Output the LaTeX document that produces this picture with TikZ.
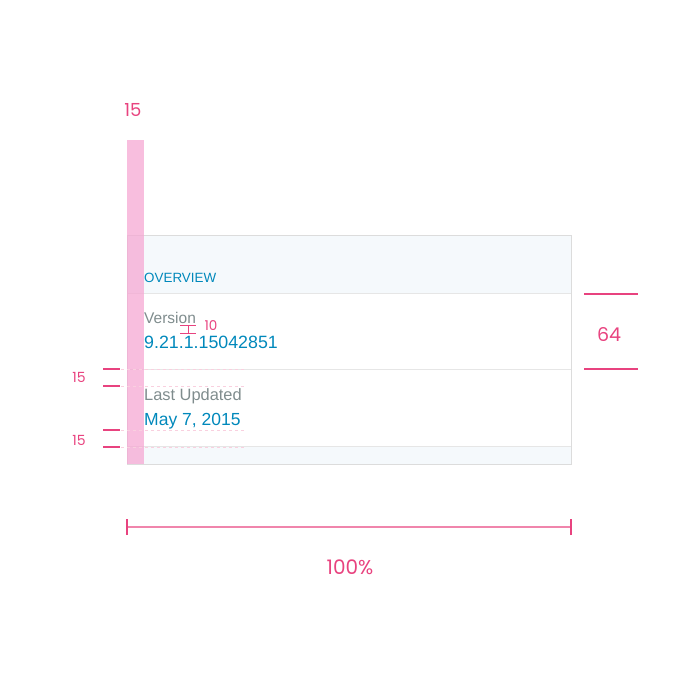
\documentclass[tikz,border=0pt]{standalone}
\usepackage{fontspec}
\setmainfont{Liberation Sans}
\newfontfamily\dimfont{Poppins}
\usetikzlibrary{calc,positioning}
\definecolor{dimpink}{HTML}{E8437F}
\definecolor{strippink}{HTML}{F5A8D3}
\definecolor{linkblue}{HTML}{0088BB}
\definecolor{labelgray}{HTML}{7F8C8D}
\definecolor{bandfill}{HTML}{F5F9FC}
\definecolor{cardline}{HTML}{DCDCDC}

\begin{document}
\begin{tikzpicture}[x=1pt, y=-1pt,
    dim/.style={draw=dimpink, line width=1.2pt},
    guide/.style={draw=dimpink!25, dashed, line width=0.7pt},
    dimtext/.style={text=dimpink, inner sep=0pt, font=\dimfont\fontsize{#1}{#1}\selectfont},
    dimtext/.default=16,
    rowtext/.style={anchor=base west, inner sep=0pt, font=\fontsize{#1}{#1}\selectfont},
    rowtext/.default=16,
    divider/.style={draw=cardline!70, line width=0.6pt}]
  \useasboundingbox (0,0) rectangle (700,700);
  % card with header and footer bands
  \fill[bandfill] (127,235) rectangle (571,293);
  \fill[bandfill] (127,446) rectangle (571,464);
  \draw[divider] (127,293) -- (571,293);
  \draw[divider] (127,369) -- (571,369);
  \draw[divider] (127,446) -- (571,446);
  \draw[cardline, line width=0.8pt] (127,235) rectangle (571,464);
  % rows
  \node[rowtext=13.4, text=linkblue] (overview) at (144,282) {OVERVIEW};
  \node[rowtext=15.5, text=labelgray] (version) at (144,323.5) {Version};
  \node[rowtext=17.8, text=linkblue] (number) at (144,348.5) {9.21.1.15042851};
  \node[rowtext=16.4, text=labelgray] (updated) at (144,400.7) {Last Updated};
  \node[rowtext=17.5, text=linkblue] (date) at (144,425.5) {May 7, 2015};
  % padding strip
  \fill[strippink, opacity=0.75] (127,140) rectangle (144,464);
  \node[dimtext=18] (padtop) at (133,110) {15};
  % guides
  \foreach \y in {369,386,430,447}
    \draw[guide] (103,\y) -- (245,\y);
  % left paddings
  \coordinate (ta) at (103,369); \coordinate (tb) at (120,369);
  \coordinate (tc) at (103,386); \coordinate (td) at (120,386);
  \coordinate (ba) at (103,430); \coordinate (bb) at (120,430);
  \coordinate (bc) at (103,447); \coordinate (bd) at (120,447);
  \draw[dim] (ta) -- (tb) (tc) -- (td) (ba) -- (bb) (bc) -- (bd);
  \node[dimtext=14] (padrow) at (79,377) {15};
  \node[dimtext=14] (padlow) at (79,440) {15};
  % gap between label and value
  \coordinate (ga) at (180,325); \coordinate (gb) at (196,325);
  \coordinate (gc) at (180,333); \coordinate (gd) at (196,333);
  \draw[dim, line width=1pt] (ga) -- (gb) (gc) -- (gd) ($(ga)!0.5!(gb)$) -- ($(gc)!0.5!(gd)$);
  \node[dimtext=13.5] (gap) at (211,326) {10};
  % row height
  \coordinate (ra) at (584,294); \coordinate (rb) at (638,294);
  \coordinate (rc) at (584,369); \coordinate (rd) at (638,369);
  \draw[dim] (ra) -- (rb) (rc) -- (rd);
  \node[dimtext=19] (height) at (609,335) {64};
  % full width
  \coordinate (wl) at (127,527); \coordinate (wr) at (571,527);
  \draw[dim, draw=dimpink!65] (wl) -- (wr);
  \draw[dim] ([yshift=-8pt]wl) -- ([yshift=8pt]wl) ([yshift=-8pt]wr) -- ([yshift=8pt]wr);
  \node[dimtext=20] (width) at (350,567.5) {100\%};
\end{tikzpicture}
\end{document}
